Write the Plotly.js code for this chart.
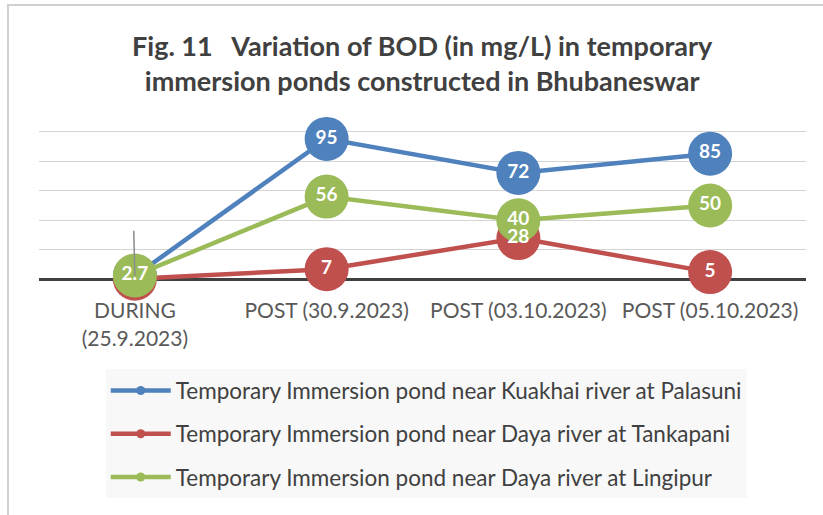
<!DOCTYPE html>
<html>
<head>
<meta charset="utf-8">
<script src="https://cdn.plot.ly/plotly-3.0.1.min.js"></script>
<style>
  html, body { margin: 0; padding: 0; background: #ffffff; }
  #frame { position: absolute; left: 7px; top: 4px; width: 900px; height: 600px;
           border-left: 2px solid #d0d0d0; border-top: 2px solid #d0d0d0; }
  #chart { position: absolute; left: 0; top: 0; width: 823px; height: 515px; }
</style>
</head>
<body>
<div id="frame"></div>
<div id="chart"></div>
<script>
// ---- data ----
var categories = ['DURING<br>(25.9.2023)', 'POST (30.9.2023)', 'POST (03.10.2023)', 'POST (05.10.2023)'];
var seriesNames = [
  'Temporary Immersion pond near Kuakhai river at Palasuni',
  'Temporary Immersion pond near Daya river at Tankapani',
  'Temporary Immersion pond near Daya river at Lingipur'
];
var kuakhai = [2.4, 95, 72, 85];
var tankapani = [0.5, 7, 28, 5];
var lingipur = [2.7, 56, 40, 50];
var kuakhaiLabels = ['', '95', '72', '85'];
var tankapaniLabels = ['', '7', '28', '5'];
var lingipurLabels = ['2.7', '56', '40', '50'];
var colors = ['#4f81bd', '#c0504d', '#9bbb59'];
// leader line seen above the first point (label leader), top value
var leaderTop = 33;

var values = [kuakhai, tankapani, lingipur];
var labels = [kuakhaiLabels, tankapaniLabels, lingipurLabels];

var traces = [];
values.forEach(function (v, i) {
  traces.push({
    x: categories, y: v, type: 'scatter', mode: 'lines+markers',
    name: seriesNames[i], legendgroup: 'g' + i,
    line: { color: colors[i], width: 4.5 },
    marker: { color: colors[i], size: 9 },
    cliponaxis: false, hoverinfo: 'skip'
  });
  traces.push({
    x: categories, y: v, type: 'scatter', mode: 'markers',
    showlegend: false, legendgroup: 'g' + i,
    marker: { color: colors[i], size: 44 },
    cliponaxis: false, hoverinfo: 'skip'
  });
});
values.forEach(function (v, i) {
  traces.push({
    x: categories, y: v, type: 'scatter', mode: 'text',
    text: labels[i], textposition: 'middle center',
    textfont: { family: 'Lato', size: 19, color: '#ffffff', weight: 'bold' },
    showlegend: false, cliponaxis: false, hoverinfo: 'skip'
  });
});

var layout = {
  width: 823, height: 515,
  margin: { l: 39, r: 17, t: 130, b: 234, autoexpand: false },
  paper_bgcolor: 'rgba(0,0,0,0)',
  plot_bgcolor: 'rgba(0,0,0,0)',
  font: { family: 'Lato', color: '#595959' },
  title: {
    text: 'Fig. 11   Variation of BOD (in mg/L) in temporary<br>immersion ponds constructed in Bhubaneswar',
    font: { family: 'Lato', size: 27, color: '#404040', weight: 'bold' },
    xref: 'container', yref: 'container',
    x: 0.513, xanchor: 'center', y: 0.892, yanchor: 'top'
  },
  xaxis: {
    type: 'category', range: [-0.5, 3.5], automargin: false,
    showgrid: false, zeroline: false, showline: false,
    ticks: 'outside', ticklen: 11, tickcolor: 'rgba(0,0,0,0)',
    tickfont: { family: 'Lato', size: 21, color: '#595959' }
  },
  yaxis: {
    range: [-1, 101], dtick: 20, tick0: 0, automargin: false,
    showticklabels: false, ticks: '',
    showgrid: true, gridcolor: '#d4d4d4', gridwidth: 1,
    zeroline: true, zerolinecolor: '#404040', zerolinewidth: 3,
    showline: false
  },
  shapes: [{
    type: 'line', xref: 'x', yref: 'y', layer: 'above',
    x0: -0.006, x1: 0, y0: leaderTop, y1: lingipur[0],
    line: { color: '#8c8c8c', width: 1.5 }
  }],
  showlegend: true,
  legend: {
    x: 0.087, xanchor: 'left', y: -0.585, yanchor: 'top',
    bgcolor: '#f8f8f8', borderwidth: 0,
    font: { family: 'Lato', size: 22.5, color: '#404040' },
    tracegroupgap: 11, traceorder: 'grouped', itemwidth: 60
  }
};

Plotly.newPlot('chart', traces, layout, { displayModeBar: false, staticPlot: true });
</script>
</body>
</html>
